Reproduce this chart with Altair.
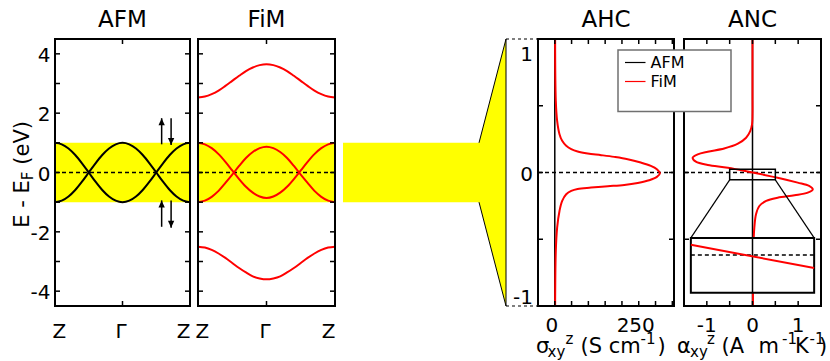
import altair as alt
import pandas as pd

# ---------------- band energies (eV) along Z - Γ - Z ----------------
K_PATH = [0.00, 0.05, 0.10, 0.15, 0.20, 0.25, 0.30, 0.35, 0.40, 0.45, 0.50,
          0.55, 0.60, 0.65, 0.70, 0.75, 0.80, 0.85, 0.90, 0.95, 1.00]
AFM_BAND_1 = [1.00, 0.95, 0.81, 0.59, 0.31, 0.00, -0.31, -0.59, -0.81, -0.95, -1.00,
              -0.95, -0.81, -0.59, -0.31, 0.00, 0.31, 0.59, 0.81, 0.95, 1.00]
AFM_BAND_2 = [-1.00, -0.95, -0.81, -0.59, -0.31, 0.00, 0.31, 0.59, 0.81, 0.95, 1.00,
              0.95, 0.81, 0.59, 0.31, 0.00, -0.31, -0.59, -0.81, -0.95, -1.00]
FIM_BAND_1 = [1.00, 0.95, 0.82, 0.62, 0.36, 0.07, -0.22, -0.48, -0.68, -0.81, -0.86,
              -0.81, -0.68, -0.48, -0.22, 0.07, 0.36, 0.62, 0.82, 0.95, 1.00]
FIM_BAND_2 = [-1.00, -0.95, -0.82, -0.62, -0.35, -0.07, 0.22, 0.49, 0.69, 0.82, 0.87,
              0.82, 0.69, 0.49, 0.22, -0.07, -0.35, -0.62, -0.82, -0.95, -1.00]
FIM_BAND_3 = [2.53, 2.56, 2.64, 2.76, 2.92, 3.09, 3.26, 3.42, 3.54, 3.62, 3.65,
              3.62, 3.54, 3.42, 3.26, 3.09, 2.92, 2.76, 2.64, 2.56, 2.53]
FIM_BAND_4 = [-2.50, -2.53, -2.61, -2.73, -2.88, -3.05, -3.22, -3.37, -3.50, -3.57, -3.60,
              -3.57, -3.50, -3.37, -3.22, -3.05, -2.88, -2.73, -2.61, -2.53, -2.50]

K_TICK_POS = [0.0, 0.5, 1.0]
K_TICK_LABELS = ["Z", "Γ", "Z"]
E_RANGE = [-4.5, 4.5]
E_TICKS = [-4, -3, -2, -1, 0, 1, 2, 3, 4]
E_LABELS = [4, 2, 0, -2, -4]
E_WINDOW = [-1.0, 1.0]
E_FERMI = 0.0

# spin-degeneracy arrows drawn next to the AFM bands
SPIN_K = [0.79, 0.86, 0.79, 0.86]
SPIN_TAIL = [0.95, 1.83, -1.83, -0.94]
SPIN_TIP = [1.83, 0.93, -0.94, -1.86]
SPIN_DIR = ["up", "down", "up", "down"]

# ---------------- anomalous Hall conductivity (S/cm) ----------------
AHC_E = [1.00, 0.537, 0.387, 0.287, 0.237, 0.200, 0.175, 0.157, 0.142, 0.130, 0.117,
         0.100, 0.075, 0.050, 0.025, -0.005, -0.033, -0.058, -0.078, -0.093, -0.103,
         -0.113, -0.123, -0.138, -0.163, -0.213, -0.288, -0.413, -0.588, -1.00]
AHC_FIM = [1, 3, 7, 14, 22, 34, 49, 68, 98, 138, 177,
           217, 256, 286, 304, 313, 304, 281, 247, 207, 158,
           108, 68, 49, 34, 22, 14, 7, 3, 1]
AFM_ZERO_E = [1.0, -1.0]
AFM_ZERO = [0.0, 0.0]
SIGMA_RANGE = [-50, 355]
SIGMA_TICKS = [0, 50, 100, 150, 200, 250, 300, 350]
SIGMA_LABELS = [0, 250]
WIN_RANGE = [-1.0, 1.0]
WIN_TICKS = [-1.0, -0.5, 0.0, 0.5, 1.0]
WIN_LABELS = [1, 0, -1]

# ---------------- anomalous Nernst conductivity (A/(m K)) ----------------
ANC_E = [1.00, 0.60, 0.44, 0.36, 0.31, 0.26, 0.216, 0.18, 0.156, 0.136, 0.111, 0.081,
         0.056, 0.036, 0.000, -0.039, -0.076, -0.101, -0.126, -0.151, -0.171, -0.189,
         -0.213, -0.251, -0.313, -0.413, -0.49, -0.60, -1.00]
ANC_FIM = [0.00, 0.00, 0.00, -0.01, -0.05, -0.14, -0.32, -0.62, -0.98, -1.20, -1.31, -1.24,
           -0.98, -0.54, 0.00, 0.55, 0.99, 1.24, 1.32, 1.21, 0.92, 0.55,
           0.30, 0.15, 0.077, 0.04, 0.026, 0.015, 0.01]
ALPHA_RANGE = [-1.5, 1.5]
ALPHA_TICKS = [-1.5, -1.0, -0.5, 0.0, 0.5, 1.0, 1.5]
ALPHA_LABELS = [-1, 0, 1]
# magnified window around E_F and the box where it is redrawn
ZOOM_ALPHA = [-0.5, 0.5]
ZOOM_E = [-0.055, 0.025]
INSET_ALPHA = [-1.35, 1.35]
INSET_E = [-0.90, -0.49]
INSET_FIM_ALPHA = [-0.5, 0.5]
INSET_FIM_E = [0.015, -0.019]

SERIES = ["AFM", "FiM"]
SERIES_COLORS = ["black", "#ff0000"]

# ---------------- layout ----------------
FONT = "DejaVu Sans"
RED = "#ff0000"
YELLOW = "#ffff00"
H = 267
W_AFM, W_GAP1, W_FIM, W_CONN, W_AHC, W_GAP2, W_ANC = 135, 8, 137, 203, 136, 10, 137
LEFT_MARGIN, TOP_MARGIN = 54, 38
TICK = 5
LABEL_SIZE = 20
TITLE_SIZE = 23
# connector strip (pixel units of its own panel)
STRIP_X0, FAN_X0, FAN_X1 = 8, 144, 171

ONE = pd.DataFrame({"n": [0]})


def sc(domain, rng=None):
    if rng is None:
        return alt.Scale(domain=list(domain), nice=False, zero=False)
    return alt.Scale(domain=list(domain), range=list(rng), nice=False, zero=False)


def qx(field, scale):
    return alt.X(f"{field}:Q", scale=scale, axis=None)


def qy(field, scale):
    return alt.Y(f"{field}:Q", scale=scale, axis=None)


K_SCALE = sc([0, 1])
E_SCALE = sc(E_RANGE)
SIG_SCALE = sc(SIGMA_RANGE)
WIN_SCALE = sc(WIN_RANGE)
ALPHA_SCALE = sc(ALPHA_RANGE)


def text(t, x, y, size=LABEL_SIZE, align="left", angle=0, color="black"):
    return alt.Chart(ONE).mark_text(
        text=t, font=FONT, fontSize=size, align=align, baseline="alphabetic",
        angle=angle, color=color,
    ).encode(x=alt.value(x), y=alt.value(y))


def rich_text(pieces, x0, y0, vertical=False):
    out = []
    for t, along, across, size in pieces:
        if vertical:
            out.append(text(t, x0 + across, y0 - along, size, angle=270))
        else:
            out.append(text(t, x0 + along, y0 + across, size))
    return out


def panel_title(t, width):
    return text(t, width / 2, -12, TITLE_SIZE, "center")


def border(width):
    return alt.Chart(ONE).mark_rect(fill="transparent", stroke="black", strokeWidth=2).encode(
        x=alt.value(0), x2=alt.value(width), y=alt.value(0), y2=alt.value(H))


def edge_ticks(values, scale, channel, extent, length=TICK):
    rule = alt.Chart(pd.DataFrame({"v": values})).mark_rule(color="black", strokeWidth=1.5)
    if channel == "y":
        enc = qy("v", scale)
        return [rule.encode(y=enc, x=alt.value(0), x2=alt.value(length)),
                rule.encode(y=enc, x=alt.value(extent - length), x2=alt.value(extent))]
    enc = qx("v", scale)
    return [rule.encode(x=enc, y=alt.value(0), y2=alt.value(length)),
            rule.encode(x=enc, y=alt.value(extent - length), y2=alt.value(extent))]


def fermi_line(scale, width):
    return alt.Chart(pd.DataFrame({"e": [E_FERMI]})).mark_rule(
        color="black", strokeWidth=1.5, strokeDash=[4, 3]
    ).encode(y=qy("e", scale), x=alt.value(0), x2=alt.value(width))


def value_labels(values, labels, channel, scale, fixed, aligns, dxs, dys):
    layers = []
    for v, lab, al, dx, dy in zip(values, labels, aligns, dxs, dys):
        df = pd.DataFrame({"v": [v]})
        mark = alt.Chart(df).mark_text(text=str(lab), font=FONT, fontSize=LABEL_SIZE,
                                       align=al, baseline="alphabetic", dx=dx, dy=dy)
        if channel == "x":
            layers.append(mark.encode(x=qx("v", scale), y=alt.value(fixed)))
        else:
            layers.append(mark.encode(y=qy("v", scale), x=alt.value(fixed)))
    return layers


def vertical_curve(e_vals, x_vals, xscale, yscale, color, width):
    df = pd.DataFrame({"i": list(range(len(e_vals))), "e": e_vals, "x": x_vals})
    return alt.Chart(df).mark_line(color=color, strokeWidth=width, interpolate="catmull-rom").encode(
        x=qx("x", xscale), y=qy("e", yscale), order=alt.Order("i:Q"))


def band_panel(bands, color, width, title, arrows=False, energy_axis=False):
    rows = [{"band": name, "k": k, "e": e}
            for name, vals in bands for k, e in zip(K_PATH, vals)]
    window = pd.DataFrame({"k0": [K_PATH[0]], "k1": [K_PATH[-1]],
                           "e0": [E_WINDOW[0]], "e1": [E_WINDOW[1]]})
    layers = [
        alt.Chart(window).mark_rect(color=YELLOW).encode(
            x=qx("k0", K_SCALE), x2="k1", y=qy("e0", E_SCALE), y2="e1"),
        fermi_line(E_SCALE, width),
        alt.Chart(pd.DataFrame(rows)).mark_line(color=color, strokeWidth=2, interpolate="monotone").encode(
            x=qx("k", K_SCALE), y=qy("e", E_SCALE), detail="band:N"),
    ]
    if arrows:
        sp = pd.DataFrame({"k": SPIN_K, "tail": SPIN_TAIL, "tip": SPIN_TIP, "dir": SPIN_DIR})
        layers.append(alt.Chart(sp).mark_rule(color="black", strokeWidth=1.5).encode(
            x=qx("k", K_SCALE), y=qy("tail", E_SCALE), y2="tip"))
        for d, path in (("up", "M0,0L0.45,1L-0.45,1Z"), ("down", "M0,0L0.45,-1L-0.45,-1Z")):
            layers.append(alt.Chart(sp[sp["dir"] == d]).mark_point(
                shape=path, size=196, filled=True, color="black", opacity=1, strokeWidth=0
            ).encode(x=qx("k", K_SCALE), y=qy("tip", E_SCALE)))
    layers += edge_ticks(E_TICKS, E_SCALE, "y", width)
    layers += edge_ticks(K_TICK_POS, K_SCALE, "x", H)
    layers.append(border(width))
    layers += value_labels(K_TICK_POS, K_TICK_LABELS, "x", K_SCALE, H + 31.7,
                           ["left", "center", "right"], [-2.5, -1.5, 0.5], [0, 0, 0])
    layers.append(panel_title(title, width))
    if energy_axis:
        layers += value_labels(E_LABELS, E_LABELS, "y", E_SCALE, -4.5,
                               ["right"] * 5, [0] * 5, [8] * 5)
        layers += rich_text([("E - E", 0, 0, 21), ("F", 47.5, 4, 15), ("(eV)", 63, 0, 21)],
                            -26.5, 188.7, vertical=True)
        # fixes the chart origin so the plot area starts at the page margin
        layers.append(alt.Chart(ONE).mark_rect(opacity=0).encode(
            x=alt.value(-LEFT_MARGIN), x2=alt.value(0), y=alt.value(-TOP_MARGIN), y2=alt.value(0)))
    return alt.layer(*layers).properties(width=width, height=H)


def spacer(width):
    return alt.Chart(ONE).mark_rect(opacity=0).encode(
        x=alt.value(0), x2=alt.value(width), y=alt.value(0), y2=alt.value(1)
    ).properties(width=width, height=H)


# ---------------- band panels ----------------
afm = band_panel([("a", AFM_BAND_1), ("b", AFM_BAND_2)], "black", W_AFM, "AFM",
                 arrows=True, energy_axis=True)
fim = band_panel([("a", FIM_BAND_1), ("b", FIM_BAND_2), ("c", FIM_BAND_3), ("d", FIM_BAND_4)],
                 RED, W_FIM, "FiM")

# ---------------- connector: energy window fanned out to the response panels ----------------
CONN_SCALE = sc([0, W_CONN])
fan = pd.DataFrame({"x": [STRIP_X0, FAN_X0, FAN_X1],
                    "lo": [E_WINDOW[0], E_WINDOW[0], E_RANGE[0]],
                    "hi": [E_WINDOW[1], E_WINDOW[1], E_RANGE[1]]})
fan_edges = pd.DataFrame({"x0": [FAN_X0, FAN_X0, FAN_X1], "y0": [E_WINDOW[1], E_WINDOW[0], E_RANGE[0]],
                          "x1": [FAN_X1, FAN_X1, FAN_X1], "y1": [E_RANGE[1], E_RANGE[0], E_RANGE[1]]})
fan_guides = pd.DataFrame({"x0": [FAN_X1, FAN_X1], "x1": [W_CONN, W_CONN], "y": E_RANGE})
conn = alt.layer(
    alt.Chart(fan).mark_area(color=YELLOW, orient="vertical", opacity=1).encode(
        x=qx("x", CONN_SCALE), y=qy("lo", E_SCALE), y2="hi"),
    alt.Chart(fan_edges).mark_rule(color="black", strokeWidth=1).encode(
        x=qx("x0", CONN_SCALE), y=qy("y0", E_SCALE), x2="x1", y2="y1"),
    alt.Chart(fan_guides).mark_rule(color="black", strokeWidth=1.2, strokeDash=[3, 3]).encode(
        x=qx("x0", CONN_SCALE), x2="x1", y=qy("y", E_SCALE)),
).properties(width=W_CONN, height=H)

# ---------------- AHC ----------------
ahc_layers = [
    vertical_curve(AFM_ZERO_E, AFM_ZERO, SIG_SCALE, WIN_SCALE, "black", 1.5),
    fermi_line(WIN_SCALE, W_AHC),
    vertical_curve(AHC_E, AHC_FIM, SIG_SCALE, WIN_SCALE, RED, 2),
]
ahc_layers += edge_ticks(WIN_TICKS, WIN_SCALE, "y", W_AHC)
ahc_layers += edge_ticks(SIGMA_TICKS, SIG_SCALE, "x", H)
ahc_layers.append(border(W_AHC))
ahc_layers += value_labels(SIGMA_LABELS, SIGMA_LABELS, "x", SIG_SCALE, H + 25.7,
                           ["center", "center"], [-3, -3], [0, 0])
ahc_layers += value_labels(WIN_LABELS, WIN_LABELS, "y", WIN_SCALE, -5,
                           ["right"] * 3, [0] * 3, [22, 8.5, -1.7])
ahc_layers.append(panel_title("AHC", W_AHC))
ahc_layers += rich_text([("σ", -2, 0, 21), ("xy", 9.5, 4, 15), ("z", 27.5, -9, 15),
                         ("(S cm", 42.5, 0, 21), ("-1", 102.5, -9, 15), (")", 119.5, 0, 21)],
                        0, H + 46.5)
ahc = alt.layer(*ahc_layers).properties(width=W_AHC, height=H)

# ---------------- ANC ----------------


def px_x(a):
    return (a - ALPHA_RANGE[0]) / (ALPHA_RANGE[1] - ALPHA_RANGE[0]) * W_ANC


def px_y(e):
    return (WIN_RANGE[1] - e) / (WIN_RANGE[1] - WIN_RANGE[0]) * H


zoom_box = pd.DataFrame({"a0": [ZOOM_ALPHA[0]], "a1": [ZOOM_ALPHA[1]], "e0": [ZOOM_E[0]], "e1": [ZOOM_E[1]]})
inset_box = pd.DataFrame({"a0": [INSET_ALPHA[0]], "a1": [INSET_ALPHA[1]], "e0": [INSET_E[0]], "e1": [INSET_E[1]]})
zoom_links = pd.DataFrame({"a0": ZOOM_ALPHA, "e0": [ZOOM_E[0]] * 2, "a1": INSET_ALPHA, "e1": [INSET_E[1]] * 2})

anc_main = [
    vertical_curve(AFM_ZERO_E, AFM_ZERO, ALPHA_SCALE, WIN_SCALE, "black", 1.5),
    fermi_line(WIN_SCALE, W_ANC),
    vertical_curve(ANC_E, ANC_FIM, ALPHA_SCALE, WIN_SCALE, RED, 2),
    alt.Chart(zoom_box).mark_rect(fill="transparent", stroke="black", strokeWidth=1.5).encode(
        x=qx("a0", ALPHA_SCALE), x2="a1", y=qy("e0", WIN_SCALE), y2="e1"),
    alt.Chart(zoom_links).mark_rule(color="black", strokeWidth=1.2).encode(
        x=qx("a0", ALPHA_SCALE), y=qy("e0", WIN_SCALE), x2="a1", y2="e1"),
    alt.Chart(inset_box).mark_rect(fill="white", stroke="black", strokeWidth=2).encode(
        x=qx("a0", ALPHA_SCALE), x2="a1", y=qy("e0", WIN_SCALE), y2="e1"),
]
anc_main += edge_ticks(WIN_TICKS, WIN_SCALE, "y", W_ANC)
anc_main += edge_ticks(ALPHA_TICKS, ALPHA_SCALE, "x", H)
anc_main += value_labels(ALPHA_LABELS, [str(v) for v in ALPHA_LABELS], "x", ALPHA_SCALE, H + 25.7,
                         ["center"] * 3, [0] * 3, [0] * 3)

IX = sc(ZOOM_ALPHA, [px_x(INSET_ALPHA[0]), px_x(INSET_ALPHA[1])])
IY = sc(ZOOM_E, [px_y(INSET_E[0]), px_y(INSET_E[1])])
anc_inset = alt.layer(
    alt.Chart(pd.DataFrame({"a": [AFM_ZERO[0]], "e0": [ZOOM_E[0]], "e1": [ZOOM_E[1]]})).mark_rule(
        color="black", strokeWidth=1.5).encode(x=qx("a", IX), y=qy("e0", IY), y2="e1"),
    alt.Chart(pd.DataFrame({"a0": [ZOOM_ALPHA[0]], "a1": [ZOOM_ALPHA[1]], "e": [E_FERMI]})).mark_rule(
        color="black", strokeWidth=1.5, strokeDash=[4, 3]).encode(x=qx("a0", IX), x2="a1", y=qy("e", IY)),
    alt.Chart(pd.DataFrame({"a": INSET_FIM_ALPHA, "e": INSET_FIM_E})).mark_line(
        color=RED, strokeWidth=2).encode(x=qx("a", IX), y=qy("e", IY)),
)

legend = [alt.Chart(ONE).mark_rect(fill="white", stroke="#707070", strokeWidth=1.5).encode(
    x=alt.value(-66), x2=alt.value(47), y=alt.value(11), y2=alt.value(72.5))]
for i, (name, col) in enumerate(zip(SERIES, SERIES_COLORS)):
    y_line = 23.5 + 19 * i
    legend.append(alt.Chart(ONE).mark_rule(color=col, strokeWidth=1.2).encode(
        x=alt.value(-59), x2=alt.value(-38.5), y=alt.value(y_line)))
    legend.append(text(name, -33.5, y_line + 5.5, 16))

anc_over = [border(W_ANC)] + legend + [panel_title("ANC", W_ANC)]
anc_over += rich_text([("α", -7, 0, 21), ("xy", 6, 4, 15), ("z", 23, -9, 15), ("(A", 37.5, 0, 21),
                       ("m", 74.5, 0, 21), ("-1", 98, -9, 15), ("K", 111, 0, 21),
                       ("-1", 125.5, -9, 15), (")", 135, 0, 21)], 0, H + 46.5)
anc = alt.layer(alt.layer(*anc_main), anc_inset, *anc_over).resolve_scale(
    x="independent", y="independent").properties(width=W_ANC, height=H)

chart = alt.hconcat(afm, spacer(W_GAP1), fim, conn, ahc, spacer(W_GAP2), anc,
                    spacing=0, bounds="flush").properties(
    padding={"left": 0, "top": 0, "right": 0, "bottom": 0}
).configure_view(stroke="transparent")

chart.save("out.html", embed_options={"renderer": "svg", "actions": False})
